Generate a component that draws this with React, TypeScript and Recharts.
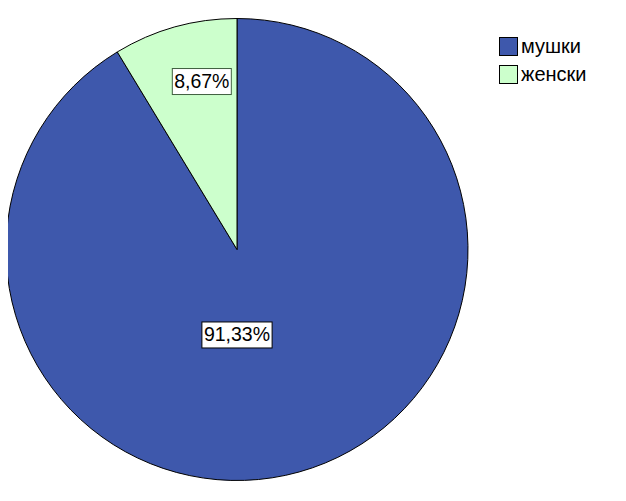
import React from "react";
import { PieChart, Pie, Cell, Legend } from "recharts";

const categories = ["мушки", "женски"];
const percents = [91.33, 8.67];
const colors = ["#3e58ac", "#ccffcc"];
const labelBorders = ["#000000", "#3f5f3f"];

const data = categories.map((name, i) => ({ name, value: percents[i] }));

const fmt = (v: number) => v.toFixed(2).replace(".", ",") + "%";

const renderLabel = (props: any) => {
  const { cx, cy, midAngle, outerRadius, percent, index, value } = props;
  const RAD = Math.PI / 180;
  let x: number;
  let y: number;
  if (percent > 0.5) {
    // large slice: SPSS drops the label straight below the centre
    x = cx;
    y = cy + outerRadius * 0.37;
  } else {
    // thin slice: keep the box inside, pulled toward the slice edge
    const r = outerRadius * 0.755;
    x = cx + r * Math.cos(-midAngle * RAD) * 0.75;
    y = cy + r * Math.sin(-midAngle * RAD);
  }
  const text = fmt(value);
  const w = text.length * 11.2 + 3;
  const h = 26;
  return (
    <g>
      <rect
        x={x - w / 2}
        y={y - h / 2}
        width={w}
        height={h}
        fill="#fff"
        stroke={labelBorders[index]}
        strokeWidth={1}
      />
      <text
        x={x}
        y={y + 1}
        textAnchor="middle"
        dominantBaseline="middle"
        fontSize={19.5}
        fontFamily="Liberation Sans, Arial, sans-serif"
        fill="#000"
      >
        {text}
      </text>
    </g>
  );
};

const renderLegend = () => (
  <div style={{ fontFamily: "Liberation Sans, Arial, sans-serif" }}>
    {categories.map((c, i) => (
      <div
        key={c}
        style={{ display: "flex", alignItems: "center", height: 28 }}
      >
        <div
          style={{
            width: 17,
            height: 17,
            background: colors[i],
            border: "1px solid #000",
            marginRight: 3,
          }}
        />
        <span style={{ fontSize: 20, lineHeight: "20px", color: "#000" }}>{c}</span>
      </div>
    ))}
  </div>
);

export default function App() {
  return (
    <PieChart width={618} height={485} margin={{ top: 0, right: 0, bottom: 0, left: 0 }}>
      <Pie
        data={data}
        dataKey="value"
        cx={229}
        cy={241.5}
        outerRadius={231}
        startAngle={90}
        endAngle={-270}
        stroke="#000"
        strokeWidth={1}
        label={renderLabel}
        labelLine={false}
        isAnimationActive={false}
      >
        {data.map((d, i) => (
          <Cell key={d.name} fill={colors[i]} />
        ))}
      </Pie>
      <Legend
        content={renderLegend}
        layout="vertical"
        verticalAlign="top"
        align="right"
        wrapperStyle={{ left: 491, top: 24, width: 120 }}
      />
    </PieChart>
  );
}
